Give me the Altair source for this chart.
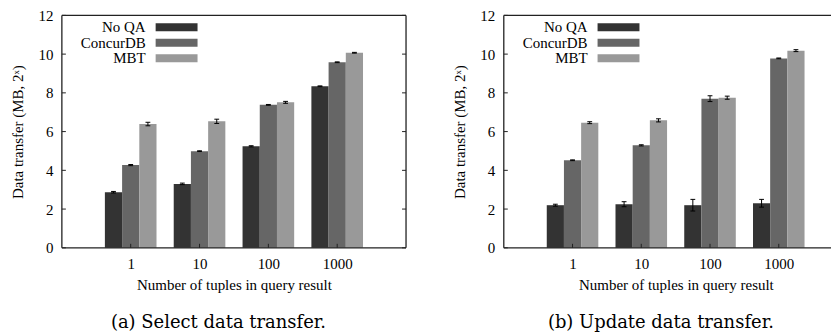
import altair as alt
import pandas as pd

categories = ["1", "10", "100", "1000"]
series = ["No QA", "ConcurDB", "MBT"]
colors = ["#333333", "#666666", "#999999"]

select_noqa = [2.87, 3.30, 5.24, 8.34]
select_concurdb = [4.27, 4.99, 7.38, 9.58]
select_mbt = [6.39, 6.53, 7.51, 10.07]
select_noqa_err = [0.04, 0.04, 0.03, 0.02]
select_concurdb_err = [0.03, 0.02, 0.02, 0.02]
select_mbt_err = [0.09, 0.11, 0.05, 0.02]

update_noqa = [2.20, 2.25, 2.20, 2.30]
update_concurdb = [4.52, 5.29, 7.70, 9.78]
update_mbt = [6.46, 6.58, 7.75, 10.18]
update_noqa_err = [0.05, 0.13, 0.30, 0.20]
update_concurdb_err = [0.02, 0.03, 0.15, 0.02]
update_mbt_err = [0.05, 0.08, 0.08, 0.05]

y_ticks = [0, 2, 4, 6, 8, 10, 12]

H = 233
UNIT = 69.0
FONT = "Liberation Serif"
FRAME = "#222222"


def build_df(vals, errs):
    rows = []
    for si, (v, e) in enumerate(zip(vals, errs)):
        for ci, cat in enumerate(categories):
            rows.append({"ci": ci, "si": si, "series": series[si],
                         "value": v[ci], "err": e[ci]})
    return pd.DataFrame(rows)


def panel(df, caption, xmax, full_frame, cap_dx):
    W = round((xmax + 1) * UNIT)
    xscale = alt.Scale(domain=[-1, xmax], nice=False, zero=False)
    yscale = alt.Scale(domain=[0, 12], nice=False, zero=False)
    xaxis = alt.Axis(values=[0, 1, 2, 3],
                     labelExpr=f"{categories}[datum.value]",
                     title="Number of tuples in query result",
                     titleX=172.5,
                     ticks=False, domain=False, grid=False,
                     labelPadding=9, titlePadding=6)
    yaxis = alt.Axis(values=y_ticks, title="Data transfer (MB, 2ˣ)",
                     ticks=False, domain=False, grid=False,
                     labelPadding=9, titlePadding=12)
    base = alt.Chart(df).transform_calculate(
        center="datum.ci + (datum.si - 1) * 0.25",
        left="datum.ci + (datum.si - 1) * 0.25 - 0.125",
        right="datum.ci + (datum.si - 1) * 0.25 + 0.125",
        lo="datum.value - datum.err",
        hi="datum.value + datum.err",
        capl="datum.ci + (datum.si - 1) * 0.25 - 0.035",
        capr="datum.ci + (datum.si - 1) * 0.25 + 0.035",
    )
    bars = base.mark_bar().encode(
        x=alt.X("left:Q", scale=xscale, axis=xaxis),
        x2="right:Q",
        y=alt.Y("value:Q", scale=yscale, axis=yaxis),
        y2=alt.datum(0),
        color=alt.Color("series:N", scale=alt.Scale(domain=series, range=colors), legend=None),
    )
    err_v = base.mark_rule(color="black", strokeWidth=1).encode(
        x=alt.X("center:Q", scale=xscale, axis=xaxis),
        y=alt.Y("lo:Q", scale=yscale, axis=yaxis),
        y2="hi:Q",
    )
    cap_lo = base.mark_rule(color="black", strokeWidth=1).encode(
        x=alt.X("capl:Q", scale=xscale, axis=xaxis), x2="capr:Q",
        y=alt.Y("lo:Q", scale=yscale, axis=yaxis),
    )
    cap_hi = base.mark_rule(color="black", strokeWidth=1).encode(
        x=alt.X("capl:Q", scale=xscale, axis=xaxis), x2="capr:Q",
        y=alt.Y("hi:Q", scale=yscale, axis=yaxis),
    )
    ytick_df = pd.DataFrame({"v": y_ticks})
    ytl = alt.Chart(ytick_df).mark_rule(color=FRAME).encode(
        y=alt.Y("v:Q", scale=yscale, axis=yaxis), x=alt.value(0), x2=alt.value(4))
    xtick_df = pd.DataFrame({"c": list(range(len(categories)))})
    xtb = alt.Chart(xtick_df).mark_rule(color=FRAME).encode(
        x=alt.X("c:Q", scale=xscale, axis=xaxis), y=alt.value(H - 4), y2=alt.value(H))
    layers = [bars, err_v, cap_lo, cap_hi, ytl, xtb]
    one_row = alt.Chart(pd.DataFrame({"k": [0]}))
    # frame lines
    layers.append(one_row.mark_rule(color=FRAME, strokeWidth=1.3).encode(
        x=alt.value(0), x2=alt.value(W), y=alt.value(0)))
    layers.append(one_row.mark_rule(color=FRAME, strokeWidth=1.3).encode(
        x=alt.value(0), x2=alt.value(W), y=alt.value(H)))
    layers.append(one_row.mark_rule(color=FRAME, strokeWidth=1.3).encode(
        x=alt.value(0), y=alt.value(0), y2=alt.value(H)))
    if full_frame:
        layers.append(one_row.mark_rule(color=FRAME, strokeWidth=1.3).encode(
            x=alt.value(W), y=alt.value(0), y2=alt.value(H)))
        layers.append(alt.Chart(ytick_df).mark_rule(color=FRAME).encode(
            y=alt.Y("v:Q", scale=yscale, axis=yaxis), x=alt.value(W - 4), x2=alt.value(W)))
    for i, s in enumerate(series):
        yy = 12 + 15.5 * i
        one = alt.Chart(pd.DataFrame({"s": [s]}))
        layers.append(one.mark_text(align="right", baseline="middle", font=FONT,
                                    fontSize=15, color="black").encode(
            text="s:N", x=alt.value(84), y=alt.value(yy)))
        layers.append(one.mark_rect(color=colors[i]).encode(
            x=alt.value(94), x2=alt.value(136), y=alt.value(yy - 4), y2=alt.value(yy + 4)))
    return alt.layer(*layers).properties(
        width=W, height=H,
        title=alt.TitleParams(caption, orient="bottom", anchor="middle", frame="group",
                              font="DejaVu Serif", fontSize=18, fontWeight="normal",
                              color="black", offset=21, dx=cap_dx),
    )


left = panel(build_df([select_noqa, select_concurdb, select_mbt],
                      [select_noqa_err, select_concurdb_err, select_mbt_err]),
             "(a) Select data transfer.", 4.0, True, -15.5)
right = panel(build_df([update_noqa, update_concurdb, update_mbt],
                       [update_noqa_err, update_concurdb_err, update_mbt_err]),
              "(b) Update data transfer.", 3.76, False, -6.5)

chart = alt.hconcat(left, right, spacing=46).properties(
    padding={"left": 3, "top": 0, "right": 0, "bottom": 0}
).configure_view(stroke=None).configure_axis(
    labelFont=FONT, labelFontSize=15, labelColor="black",
    titleFont=FONT, titleFontSize=15, titleFontWeight="normal", titleColor="black",
)

chart.save("out.html", embed_options={"renderer": "svg", "actions": False})
